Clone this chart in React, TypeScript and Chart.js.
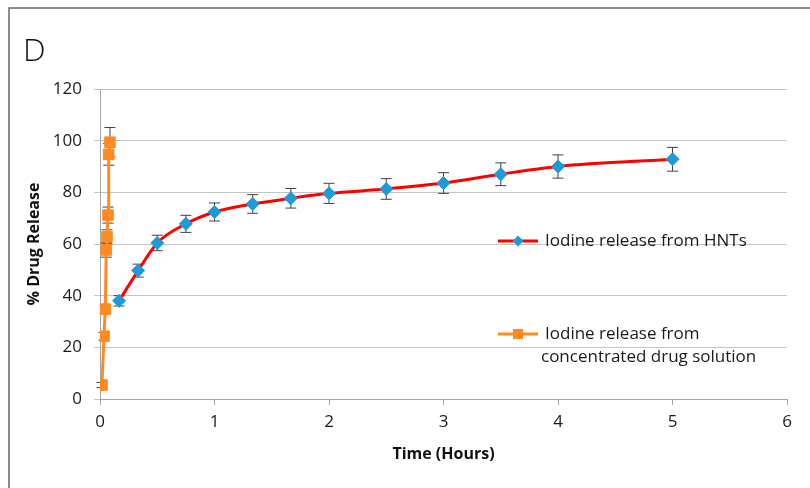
import React, { useEffect, useRef } from "react";
import { Chart, registerables } from "chart.js";

Chart.register(...registerables);

// ---- data ----
const hntTime = [0.1667, 0.3333, 0.5, 0.75, 1, 1.3333, 1.6667, 2, 2.5, 3, 3.5, 4, 5];
const hntRelease = [38, 49.7, 60.4, 67.8, 72.4, 75.5, 77.7, 79.6, 81.3, 83.6, 87, 90, 92.8];
const hntError = [2, 2.5, 3, 3.3, 3.5, 3.6, 3.8, 3.9, 4, 4, 4.4, 4.5, 4.6];

const solTime = [0.017, 0.035, 0.046, 0.055, 0.061, 0.07, 0.076, 0.087];
const solRelease = [5.4, 24.3, 34.8, 57.7, 62.8, 71.2, 94.7, 99.4];
const solError = [1, 1.5, 1.5, 2.8, 2.7, 3.1, 4.2, 5.7];

const legendHnt = ["Iodine release from HNTs"];
const legendSol = ["Iodine release from", "concentrated drug solution"];
const panelLabel = "D";
const xTitle = "Time (Hours)";
const yTitle = "% Drug Release";

const FONT = "'Open Sans', 'Noto Sans', 'DejaVu Sans', sans-serif";
const RED = "#ff0000";
const BLUE = "#1e9bd7";
const ORANGE = "#ff8a22";
const ERR = "#404040";

const errorBarPlugin = {
  id: "errorBars",
  beforeDatasetsDraw(chart: any) {
    const { ctx, scales } = chart;
    const xs = scales.x;
    const ys = scales.y;
    const sets = [
      { t: hntTime, v: hntRelease, e: hntError },
      { t: solTime, v: solRelease, e: solError },
    ];
    ctx.save();
    ctx.strokeStyle = ERR;
    ctx.lineWidth = 1;
    for (const s of sets) {
      for (let i = 0; i < s.t.length; i++) {
        const px = xs.getPixelForValue(s.t[i]);
        const top = ys.getPixelForValue(s.v[i] + s.e[i]);
        const bot = ys.getPixelForValue(s.v[i] - s.e[i]);
        ctx.beginPath();
        ctx.moveTo(px, top);
        ctx.lineTo(px, bot);
        ctx.moveTo(px - 5.5, top);
        ctx.lineTo(px + 5.5, top);
        ctx.moveTo(px - 5.5, bot);
        ctx.lineTo(px + 5.5, bot);
        ctx.stroke();
      }
    }
    ctx.restore();
  },
};

const decorPlugin = {
  id: "decor",
  beforeDraw(chart: any) {
    const { ctx } = chart;
    ctx.save();
    ctx.fillStyle = "#ffffff";
    ctx.fillRect(0, 0, chart.width, chart.height);
    ctx.strokeStyle = "#666666";
    ctx.lineWidth = 1.5;
    ctx.beginPath();
    ctx.moveTo(9, chart.height);
    ctx.lineTo(9, 8);
    ctx.lineTo(chart.width, 8);
    ctx.stroke();
    ctx.fillStyle = "#111111";
    ctx.font = `300 32px ${FONT}`;
    ctx.textBaseline = "alphabetic";
    ctx.textAlign = "left";
    ctx.fillText(panelLabel, 23, 61);
    ctx.restore();
  },
  afterDraw(chart: any) {
    const { ctx, chartArea } = chart;
    const lx = chartArea.left + 398;
    const tx = chartArea.left + 445;
    const y1 = chartArea.top + 152;
    const y2 = chartArea.top + 245;
    ctx.save();
    // entry 1
    ctx.strokeStyle = RED;
    ctx.lineWidth = 3;
    ctx.beginPath();
    ctx.moveTo(lx, y1);
    ctx.lineTo(lx + 40, y1);
    ctx.stroke();
    ctx.fillStyle = BLUE;
    ctx.beginPath();
    ctx.moveTo(lx + 20, y1 - 5.5);
    ctx.lineTo(lx + 25.5, y1);
    ctx.lineTo(lx + 20, y1 + 5.5);
    ctx.lineTo(lx + 14.5, y1);
    ctx.closePath();
    ctx.fill();
    // entry 2
    ctx.strokeStyle = ORANGE;
    ctx.beginPath();
    ctx.moveTo(lx, y2);
    ctx.lineTo(lx + 40, y2);
    ctx.stroke();
    ctx.fillStyle = ORANGE;
    ctx.fillRect(lx + 15, y2 - 5, 10, 10);
    // texts
    ctx.fillStyle = "#1a1a1a";
    ctx.font = `400 17px ${FONT}`;
    ctx.textBaseline = "middle";
    ctx.textAlign = "left";
    legendHnt.forEach((s, i) => ctx.fillText(s, tx, y1 + i * 23));
    legendSol.forEach((s, i) => ctx.fillText(s, tx - (i > 0 ? 4 : 0), y2 + i * 23));
    ctx.restore();
  },
};

export default function App() {
  const ref = useRef<HTMLCanvasElement | null>(null);

  useEffect(() => {
    if (!ref.current) return;
    const chart = new Chart(ref.current, {
      type: "line",
      data: {
        datasets: [
          {
            label: legendHnt.join(" "),
            data: hntTime.map((t, i) => ({ x: t, y: hntRelease[i] })),
            borderColor: RED,
            borderWidth: 3,
            cubicInterpolationMode: "monotone",
            pointStyle: "rectRot",
            pointRadius: 6.5,
            pointBackgroundColor: BLUE,
            pointBorderColor: BLUE,
            pointBorderWidth: 1,
            fill: false,
          },
          {
            label: legendSol.join(" "),
            data: solTime.map((t, i) => ({ x: t, y: solRelease[i] })),
            borderColor: ORANGE,
            borderWidth: 3,
            tension: 0,
            pointStyle: "rect",
            pointRadius: 7.5,
            pointBackgroundColor: ORANGE,
            pointBorderColor: ORANGE,
            pointBorderWidth: 1,
            fill: false,
          },
        ],
      },
      options: {
        animation: false,
        responsive: false,
        devicePixelRatio: 1,
        layout: { padding: { left: 20.4, top: 89, right: 23, bottom: 20 } },
        plugins: {
          legend: { display: false },
          tooltip: { enabled: false },
        },
        scales: {
          x: {
            type: "linear",
            min: 0,
            max: 6,
            ticks: {
              stepSize: 1,
              color: "#1a1a1a",
              font: { family: FONT, size: 17 },
              padding: 7,
            },
            grid: {
              drawOnChartArea: false,
              drawTicks: true,
              tickLength: 6,
              color: "#a6a6a6",
            },
            border: { color: "#a6a6a6", width: 1 },
            title: {
              display: true,
              text: xTitle,
              color: "#111111",
              font: { family: FONT, size: 16, weight: "bold" },
              padding: { top: 0, bottom: 4.4 },
            },
            afterFit: (s: any) => {
              s.height = 69;
            },
          } as any,
          y: {
            min: 0,
            max: 120,
            ticks: {
              stepSize: 20,
              color: "#1a1a1a",
              font: { family: FONT, size: 17 },
              padding: 12,
            },
            grid: {
              drawTicks: true,
              tickLength: 6,
              color: "#c4c4c4",
            },
            border: { color: "#a6a6a6", width: 1 },
            title: {
              display: true,
              text: yTitle,
              color: "#111111",
              font: { family: FONT, size: 16, weight: "bold" },
              padding: { top: 4.4, bottom: 0 },
            },
            afterFit: (s: any) => {
              s.width = 79.6;
            },
          } as any,
        },
      },
      plugins: [errorBarPlugin, decorPlugin],
    });
    return () => chart.destroy();
  }, []);

  return (
    <div style={{ position: "absolute", left: 0, top: 0, width: 810, height: 488 }}>
      <canvas ref={ref} width={810} height={488} style={{ display: "block" }} />
    </div>
  );
}
